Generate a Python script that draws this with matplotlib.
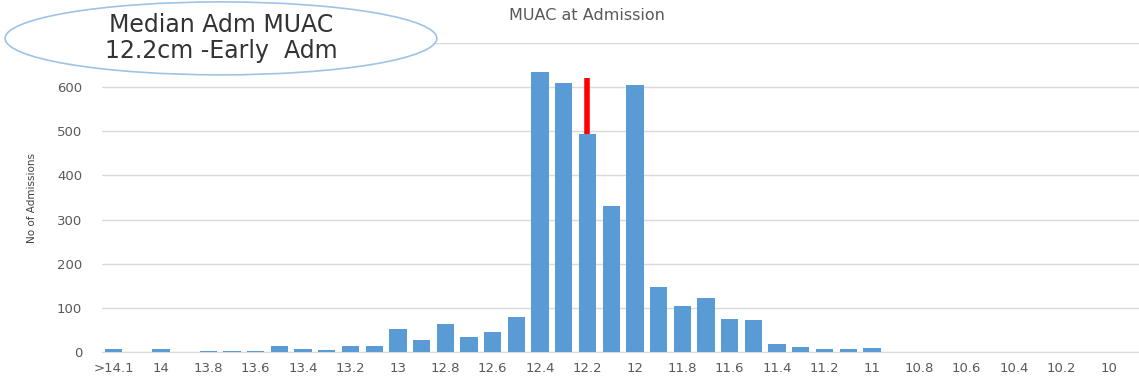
import matplotlib
matplotlib.use("Agg")
import matplotlib.pyplot as plt
from matplotlib.patches import Ellipse

# MUAC categories (cm), highest first
categories = [">14.1", "14.1", "14", "13.9", "13.8", "13.7", "13.6", "13.5", "13.4", "13.3",
              "13.2", "13.1", "13", "12.9", "12.8", "12.7", "12.6", "12.5", "12.4", "12.3",
              "12.2", "12.1", "12", "11.9", "11.8", "11.7", "11.6", "11.5", "11.4", "11.3",
              "11.2", "11.1", "11", "10.9", "10.8", "10.7", "10.6", "10.5", "10.4", "10.3",
              "10.2", "10.1", "10"]
admissions = [9, 0, 9, 0, 3, 3, 3, 14, 7, 5,
              14, 14, 54, 29, 64, 35, 47, 81, 633, 609,
              494, 330, 604, 147, 106, 122, 75, 74, 20, 13,
              7, 7, 10, 0, 0, 0, 0, 0, 0, 0,
              0, 0, 0]
yticks = [0, 100, 200, 300, 400, 500, 600, 700]

median_cat = "12.2"
median_marker_top = 620

fig = plt.figure(figsize=(11.39, 3.8), dpi=100)
ax = fig.add_axes([0.0892, 0.0724, 0.9108, 0.8156])

x = list(range(len(categories)))
ax.bar(x, admissions, width=0.73, color="#5B9BD5", zorder=3)

# red marker over the median bar
mi = categories.index(median_cat)
ax.plot([mi, mi], [admissions[mi], median_marker_top], color="#FF0000", lw=4, zorder=4,
        solid_capstyle="butt")

ax.set_xlim(-0.5, 43.27)
ax.set_ylim(0, 700)
ax.set_yticks(yticks)
ax.set_xticks(x[::2])
ax.set_xticklabels(categories[::2])
ax.grid(axis="y", color="#D9D9D9", lw=1, zorder=0)
for s in ["top", "right", "left"]:
    ax.spines[s].set_visible(False)
ax.spines["bottom"].set_color("#D9D9D9")
ax.tick_params(axis="both", length=0, colors="#595959", labelsize=9.5)
ax.tick_params(axis="y", pad=14)
ax.tick_params(axis="x", pad=7)
ax.set_ylabel("No of Admissions", fontsize=7.5, color="#404040", labelpad=14)

fig.text(0.515, 0.958, "MUAC at Admission", ha="center", va="center", fontsize=11.5, color="#595959")

ell = Ellipse((0.194, 0.899), 0.379, 0.192, transform=fig.transFigure,
              facecolor="white", edgecolor="#9DC3E6", lw=1.2, zorder=10)
fig.patches.append(ell)
fig.text(0.194, 0.934, "Median Adm MUAC", ha="center", va="center", fontsize=17,
         color="#333333", zorder=11)
fig.text(0.194, 0.866, "12.2cm -Early  Adm", ha="center", va="center", fontsize=17,
         color="#333333", zorder=11)

fig.savefig("out.png", dpi=100)
